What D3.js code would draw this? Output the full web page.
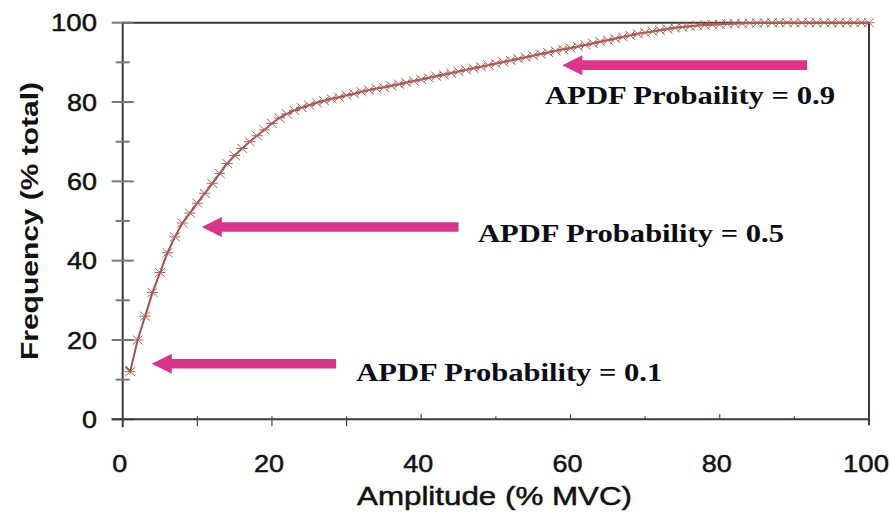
<!DOCTYPE html>
<html>
<head>
<meta charset="utf-8">
<script src="https://cdn.jsdelivr.net/npm/d3@7"></script>
<style>
	body { margin: 0; background: #fff; }
	svg { display: block; }
</style>
</head>
<body>
<svg id="chart"></svg>
<script>
// Cumulative amplitude distribution
const ampX = [0.4, 1, 2, 3, 4, 5, 6, 7, 8, 9, 10, 11, 12, 13, 14, 15, 16, 17, 18, 19, 20,
	21, 22, 23, 24, 25, 26, 27, 28, 29, 30, 31, 32, 33, 34, 35, 36, 37, 38, 39, 40,
	41, 42, 43, 44, 45, 46, 47, 48, 49, 50, 51, 52, 53, 54, 55, 56, 57, 58, 59, 60,
	61, 62, 63, 64, 65, 66, 67, 68, 69, 70, 71, 72, 73, 74, 75, 76, 77, 78, 79, 80,
	81, 82, 83, 84, 85, 86, 87, 88, 89, 90, 91, 92, 93, 94, 95, 96, 97, 98, 99, 100];
const freqY = [13.3, 12, 20, 26, 32, 37, 42, 46, 49.5, 52, 54.5, 57, 59.5, 62, 64.5, 66.5, 68.3, 70, 71.5, 73, 74.6,
	76, 77, 77.9, 78.6, 79.2, 79.8, 80.3, 80.8, 81.2, 81.7, 82.1, 82.6, 83, 83.4, 83.7, 84.1, 84.5, 84.9, 85.3, 85.7,
	86.1, 86.5, 86.9, 87.3, 87.7, 88.1, 88.5, 88.9, 89.3, 89.7, 90.1, 90.5, 90.9, 91.3, 91.7, 92.1, 92.5, 92.9, 93.3, 93.6,
	94, 94.4, 94.8, 95.2, 95.6, 96, 96.4, 96.8, 97.2, 97.5, 97.8, 98.1, 98.4, 98.7, 98.9, 99.1, 99.3, 99.4, 99.5, 99.6,
	99.7, 99.8, 99.8, 99.9, 99.9, 100, 100, 100, 100, 100, 100, 100, 100, 100, 100, 100, 100, 100, 100, 100];

const xTicks = [0, 10, 20, 30, 40, 50, 60, 70, 80, 90, 100];
const xTickLabels = [0, 20, 40, 60, 80, 100];
const yTicks = [0, 10, 20, 30, 40, 50, 60, 70, 80, 90, 100];
const yTickLabels = [0, 20, 40, 60, 80, 100];

// annotations (data units)
const annoText = ["APDF Probability = 0.1", "APDF Probability = 0.5", "APDF Probaility = 0.9"];
const annoTextX = [31.3, 47.6, 56.6];
const annoTextY = [9.6, 44.6, 79.4];
const arrowTipX = [3.9, 10.6, 58.9];
const arrowTailX = [28.6, 45, 91.7];
const arrowY = [14, 48.5, 89.3];

const width = 891, height = 512;
const svg = d3.select("#chart").attr("width", width).attr("height", height);

const x = d3.scaleLinear().domain([0, 100]).range([122.7, 869]);
const y = d3.scaleLinear().domain([0, 100]).range([419.3, 22.7]);

const axisColor = "#3a3a3a";
const lineColor = "#a3514b";
const arrowColor = "#d9368b";

// frame: top and right borders
svg.append("line")
	.attr("x1", x(0)).attr("x2", x(100))
	.attr("y1", y(100)).attr("y2", y(100))
	.attr("stroke", axisColor).attr("stroke-width", 2);
svg.append("line")
	.attr("x1", x(100)).attr("x2", x(100))
	.attr("y1", y(100)).attr("y2", y(0) + 6)
	.attr("stroke", axisColor).attr("stroke-width", 2);

// y axis
svg.append("line")
	.attr("x1", x(0)).attr("x2", x(0))
	.attr("y1", y(100)).attr("y2", y(0) + 8)
	.attr("stroke", axisColor).attr("stroke-width", 2);
svg.selectAll(".ytick")
	.data(yTicks)
	.join("line")
	.attr("class", "ytick")
	.attr("x1", d => d % 20 === 0 ? x(0) - 11 : x(0) - 7)
	.attr("x2", d => d % 20 === 0 ? x(0) + 11 : x(0) + 7)
	.attr("y1", d => y(d)).attr("y2", d => y(d))
	.attr("stroke", "#777").attr("stroke-width", 2);

// x axis
svg.append("line")
	.attr("x1", x(0) - 11).attr("x2", x(100))
	.attr("y1", y(0)).attr("y2", y(0))
	.attr("stroke", axisColor).attr("stroke-width", 2);
svg.selectAll(".xtick")
	.data(xTicks)
	.join("line")
	.attr("class", "xtick")
	.attr("x1", d => x(d)).attr("x2", d => x(d))
	.attr("y1", d => d >= 40 ? y(0) - (d % 20 === 0 ? 5 : 3) : y(0) - 3)
	.attr("y2", d => d >= 40 ? y(0) : y(0) + 7)
	.attr("stroke", d => d >= 40 ? "#2a3ad0" : "#444")
	.attr("stroke-width", 1.2);

// tick labels
const labelWidth = d => String(d).length === 1 ? 15 : String(d).length === 2 ? 30 : 46;
svg.selectAll(".xlabel")
	.data(xTickLabels)
	.join("text")
	.attr("class", "xlabel")
	.attr("x", d => x(d) - 3 - labelWidth(d) / 2)
	.attr("y", 472)
	.attr("textLength", labelWidth)
	.attr("lengthAdjust", "spacingAndGlyphs")
	.attr("font-family", "'Liberation Sans', Arial, sans-serif")
	.attr("font-size", 24)
	.attr("fill", "#111")
	.attr("stroke", "#111").attr("stroke-width", 0.5)
	.text(d => d);
svg.selectAll(".ylabel")
	.data(yTickLabels)
	.join("text")
	.attr("class", "ylabel")
	.attr("x", d => 97 - labelWidth(d))
	.attr("y", d => y(d) + 8.6)
	.attr("textLength", labelWidth)
	.attr("lengthAdjust", "spacingAndGlyphs")
	.attr("font-family", "'Liberation Sans', Arial, sans-serif")
	.attr("font-size", 24)
	.attr("fill", "#111")
	.attr("stroke", "#111").attr("stroke-width", 0.5)
	.text(d => d);

// axis titles
svg.append("text")
	.attr("x", 357).attr("y", 505)
	.attr("textLength", 275)
	.attr("lengthAdjust", "spacingAndGlyphs")
	.attr("font-family", "'Liberation Sans', Arial, sans-serif")
	.attr("font-size", 26)
	.attr("fill", "#111")
	.attr("stroke", "#111").attr("stroke-width", 0.5)
	.text("Amplitude (% MVC)");
svg.append("text")
	.attr("transform", "translate(38,360) rotate(-90)")
	.attr("textLength", 278)
	.attr("lengthAdjust", "spacingAndGlyphs")
	.attr("font-family", "'Liberation Sans', Arial, sans-serif")
	.attr("font-weight", "bold")
	.attr("font-size", 24)
	.attr("fill", "#111")
	.text("Frequency (% total)");

// curve
const points = ampX.map((d, i) => ({ x: d, y: freqY[i] }));
svg.append("path")
	.datum(points)
	.attr("fill", "none")
	.attr("stroke", lineColor)
	.attr("stroke-width", 2)
	.attr("d", d3.line().x(d => x(d.x)).y(d => y(d.y)));

svg.selectAll(".marker")
	.data(points.slice(1))
	.join("path")
	.attr("class", "marker")
	.attr("transform", d => `translate(${x(d.x)},${y(d.y)})`)
	.attr("d", "M-5,-4.5L5,4.5M-5,4.5L5,-4.5M-5.5,0L5.5,0")
	.attr("fill", "none")
	.attr("stroke", "#b0625c")
	.attr("stroke-width", 1);

// arrows
const arrowPath = (tip, tail, cy) => {
	const hl = 20, hh = 10, sh = 4.8;
	return `M${tip},${cy}L${tip + hl},${cy - hh}L${tip + hl},${cy - sh}L${tail},${cy - sh}` +
		`L${tail},${cy + sh}L${tip + hl},${cy + sh}L${tip + hl},${cy + hh}Z`;
};
svg.selectAll(".arrow")
	.data(arrowY)
	.join("path")
	.attr("class", "arrow")
	.attr("d", (d, i) => arrowPath(x(arrowTipX[i]), x(arrowTailX[i]), y(d)))
	.attr("fill", arrowColor);

svg.selectAll(".anno")
	.data(annoText)
	.join("text")
	.attr("class", "anno")
	.attr("x", (d, i) => x(annoTextX[i]))
	.attr("y", (d, i) => y(annoTextY[i]))
	.attr("textLength", (d, i) => i === 2 ? 290 : 306)
	.attr("lengthAdjust", "spacingAndGlyphs")
	.attr("font-family", "'Liberation Serif', 'Times New Roman', serif")
	.attr("font-weight", "bold")
	.attr("font-size", 26)
	.attr("fill", "#0b0b16")
	.text(d => d);
</script>
</body>
</html>
